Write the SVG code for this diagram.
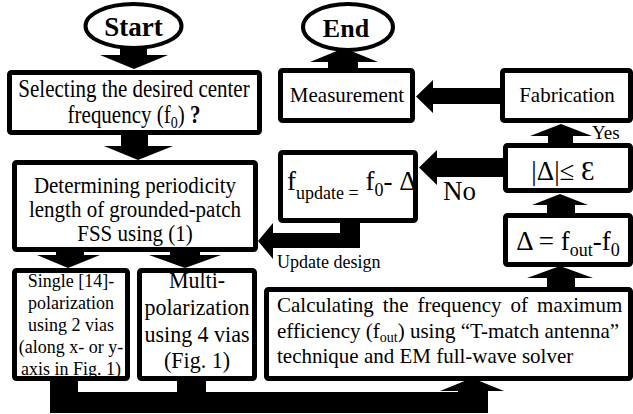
<svg xmlns="http://www.w3.org/2000/svg" width="633" height="414" viewBox="0 0 633 414">
<style>
.box{fill:#fff;stroke:#000;stroke-width:5}
.oval{fill:#fff;stroke:#000;stroke-width:4}
.arr{fill:#000;stroke:none}
text{font-family:"Liberation Serif","Times New Roman",serif;fill:#000}
.c{text-anchor:middle}
.b{font-weight:bold}
</style>
<rect width="633" height="414" fill="#fff"/>
<g id="connectors">
  <polygon class="arr" points="120,47 147,47 147,55 168,55 134,69 100,55 120,55"/>
  <polygon class="arr" points="121,134 148,134 148,146 173,146 138,160 104,146 121,146"/>
  <polygon class="arr" points="56,251 84,251 84,255 100,255 68,268 37,255 56,255"/>
  <polygon class="arr" points="170,251 200,251 200,255 221,255 185,268 149,255 170,255"/>
  <path class="arr" d="M50,378 L78,378 L78,392 L177,392 L177,378 L206,378 L206,392 L458,392 L458,391 L440,391 L472,378 L504,391 L488,391 L488,413 L50,413 Z"/>
  <polygon class="arr" points="547,289 547,278 527,278 560,266 593,278 575,278 575,289"/>
  <polygon class="arr" points="547,214 547,205 532,205 560,194 588,205 575,205 575,214"/>
  <polygon class="arr" points="548,146 548,136 530,136 561,124 592,136 573,136 573,146"/>
  <polygon class="arr" points="506,88 433,88 433,80 416,96.5 433,113 433,104 506,104"/>
  <polygon class="arr" points="506,158 437,158 437,150 419,167.5 437,185 437,177 506,177"/>
  <polygon class="arr" points="340,220 360,220 360,248 273,248 273,259 258,241 273,223 273,233 340,233"/>
  <polygon class="arr" points="328,71 328,62 310,62 344,48 378,62 358,62 358,71"/>
  <text x="592" y="139" font-size="19">Yes</text>
  <text x="443" y="200" font-size="27">No</text>
  <text x="277" y="268" font-size="18">Update design</text>
</g>
<g id="start">
  <ellipse class="oval" cx="133.5" cy="26" rx="48" ry="22"/>
  <text class="c b" x="133.5" y="36" font-size="27">Start</text>
</g>
<g id="end">
  <ellipse class="oval" cx="348" cy="27" rx="45" ry="23"/>
  <text class="c b" x="346" y="37" font-size="26">End</text>
</g>
<g id="select">
  <rect class="box" x="9.5" y="72.5" width="250" height="60" rx="2"/>
  <text class="c" font-size="21" transform="translate(134,97) scale(1,1.15)">Selecting the desired center</text>
  <text class="c" font-size="21" transform="translate(134,123) scale(1,1.15)">frequency (f<tspan font-size="14" dy="4">0</tspan><tspan dy="-4">) </tspan><tspan class="b">?</tspan></text>
</g>
<g id="determine">
  <rect class="box" x="14.5" y="162.5" width="241" height="87" rx="2"/>
  <text class="c" font-size="21" transform="translate(135,193) scale(1,1.12)">Determining periodicity</text>
  <text class="c" font-size="21" transform="translate(135,217) scale(1,1.12)">length of grounded-patch</text>
  <text class="c" font-size="21" transform="translate(135,241) scale(1,1.12)">FSS using (1)</text>
</g>
<g id="single">
  <rect class="box" x="14.5" y="270.5" width="113" height="108" rx="2"/>
  <text class="c" font-size="18" transform="translate(71,287) scale(1,1.1)">Single [14]-</text>
  <text class="c" font-size="18" transform="translate(71,308.5) scale(1,1.1)">polarization</text>
  <text class="c" font-size="18" transform="translate(71,330.5) scale(1,1.1)">using 2 vias</text>
  <text class="c" font-size="18" transform="translate(71,353) scale(1,1.1)">(along x- or y-</text>
  <text class="c" font-size="18" transform="translate(71,375) scale(1,1.1)">axis in Fig. 1)</text>
</g>
<g id="multi">
  <rect class="box" x="139.5" y="270.5" width="115" height="108" rx="2"/>
  <text class="c" font-size="22" transform="translate(197,288) scale(1,1.08)">Multi-</text>
  <text class="c" font-size="22" transform="translate(197,315) scale(1,1.08)">polarization</text>
  <text class="c" font-size="22" transform="translate(197,342) scale(1,1.08)">using 4 vias</text>
  <text class="c" font-size="22" transform="translate(197,368) scale(1,1.08)">(Fig. 1)</text>
</g>
<g id="calculate">
  <rect class="box" x="266.5" y="289.5" width="364" height="89" rx="2"/>
  <text x="277" y="312" font-size="21" word-spacing="3.8">Calculating the frequency of maximum</text>
  <text x="277" y="338" font-size="21">efficiency (f<tspan font-size="14" dy="4">out</tspan><tspan dy="-4">) using “T-match antenna”</tspan></text>
  <text x="277" y="363" font-size="21">technique and EM full-wave solver</text>
</g>
<g id="delta">
  <rect class="box" x="505.5" y="215.5" width="125" height="49" rx="2"/>
  <text class="c" x="568" y="250" font-size="27">Δ = f<tspan font-size="18" dy="6">out</tspan><tspan dy="-6">-f</tspan><tspan font-size="18" dy="6">0</tspan></text>
</g>
<g id="check">
  <rect class="box" x="505.5" y="145.5" width="125" height="45" rx="2"/>
  <text class="c" x="563" y="180" font-size="27">|Δ|≤ Ɛ</text>
</g>
<g id="update">
  <rect class="box" x="280.5" y="152.5" width="135" height="68" rx="2"/>
  <text x="287" y="190" font-size="27">f<tspan font-size="18" dy="9">update =</tspan><tspan dy="-9"> f</tspan><tspan font-size="18" dy="6">0</tspan><tspan dy="-6">- Δ</tspan></text>
</g>
<g id="measurement">
  <rect class="box" x="280.5" y="70.5" width="132" height="50" rx="2"/>
  <text class="c" x="347" y="102" font-size="21">Measurement</text>
</g>
<g id="fabrication">
  <rect class="box" x="502.5" y="70.5" width="128" height="50" rx="2"/>
  <text class="c" x="567" y="102" font-size="21">Fabrication</text>
</g>
</svg>
